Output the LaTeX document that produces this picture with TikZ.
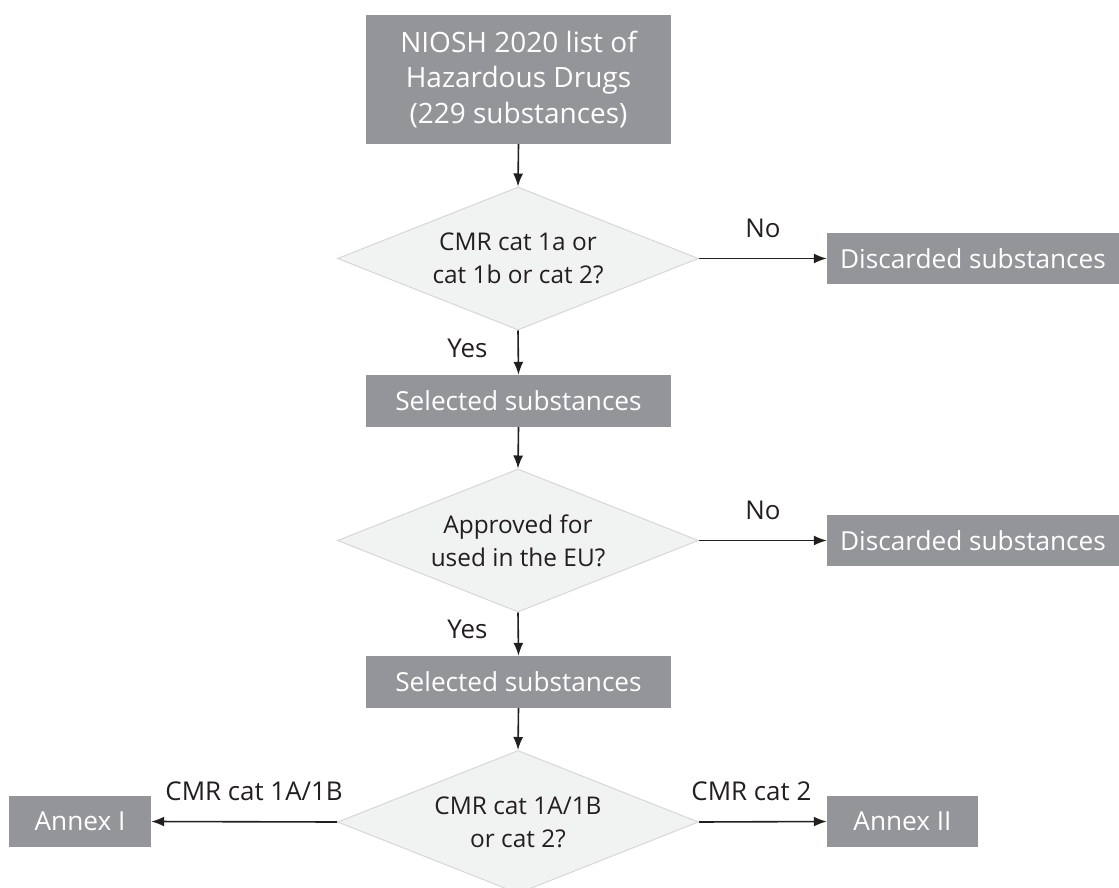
\documentclass[tikz,border=0pt]{standalone}
\usepackage{fontspec}
\setmainfont{Open Sans}
\usetikzlibrary{shapes.geometric,arrows.meta}
\definecolor{boxgray}{HTML}{939598}
\definecolor{diafill}{HTML}{F1F2F2}
\definecolor{diaedge}{HTML}{D6D7D8}
\definecolor{ink}{HTML}{231F20}
\tikzset{
  graybox/.style={fill=boxgray, text=white, inner sep=0pt, align=center,
    font=\fontsize{26.2}{35.5}\selectfont},
  decision/.style={shape=diamond, aspect=2.52, fill=diafill, draw=diaedge, line width=1pt,
    minimum width=361pt, minimum height=143pt, inner sep=0pt, align=center,
    text=ink, font=\fontsize{24.4}{33}\selectfont},
  arr/.style={draw=ink, line width=1.6pt, -{Latex[length=13pt,width=10pt]}},
  lbl/.style={text=ink, font=\fontsize{25.9}{30}\selectfont, inner sep=0pt}
}
\begin{document}
\begin{tikzpicture}[x=1pt,y=-1pt]
\useasboundingbox (0,0) rectangle (1119,888);

\node[graybox, minimum width=305pt, minimum height=129pt, font=\fontsize{28}{35.5}\selectfont] (top) at (518.5,79.5)
  {NIOSH 2020 list of\\Hazardous Drugs\\(229 substances)};

\node[decision] (d1) at (518,258.5) {CMR cat 1a or\\cat 1b or cat 2?};
\node[graybox, minimum width=292pt, minimum height=51pt] (disc1) at (973,258.5) {Discarded substances};
\node[graybox, minimum width=305pt, minimum height=52pt] (sel1) at (518.5,401) {Selected substances};

\node[decision] (d2) at (518,540.5) {Approved for\\used in the EU?};
\node[graybox, minimum width=292pt, minimum height=51pt] (disc2) at (973,540.5) {Discarded substances};
\node[graybox, minimum width=305pt, minimum height=52pt] (sel2) at (518.5,682) {Selected substances};

\node[decision] (d3) at (518,822) {CMR cat 1A/1B\\or cat 2?};
\node[graybox, minimum width=142pt, minimum height=51pt] (ann1) at (80,821.5) {Annex I};
\node[graybox, minimum width=151pt, minimum height=51pt] (ann2) at (902.5,821.5) {Annex II};

\draw[arr] (top.south) -- (d1.north);
\draw[arr] (d1.east) -- node[lbl, anchor=base, yshift=21pt] {No} (disc1.west);
\draw[arr] (d1.south) -- node[lbl, pos=0.6, anchor=base east, xshift=-30pt] {Yes} (sel1.north);
\draw[arr] (sel1.south) -- (d2.north);
\draw[arr] (d2.east) -- node[lbl, anchor=base, yshift=21pt] {No} (disc2.west);
\draw[arr] (d2.south) -- node[lbl, pos=0.59, anchor=base east, xshift=-30pt] {Yes} (sel2.north);
\draw[arr] (sel2.south) -- (d3.north);
\draw[arr] (d3.west) -- node[lbl, anchor=base, yshift=21pt, xshift=10pt] {CMR cat 1A/1B} (ann1.east);
\draw[arr] (d3.east) -- node[lbl, anchor=base, yshift=21pt, xshift=-11.5pt] {CMR cat 2} (ann2.west);
\end{tikzpicture}
\end{document}
